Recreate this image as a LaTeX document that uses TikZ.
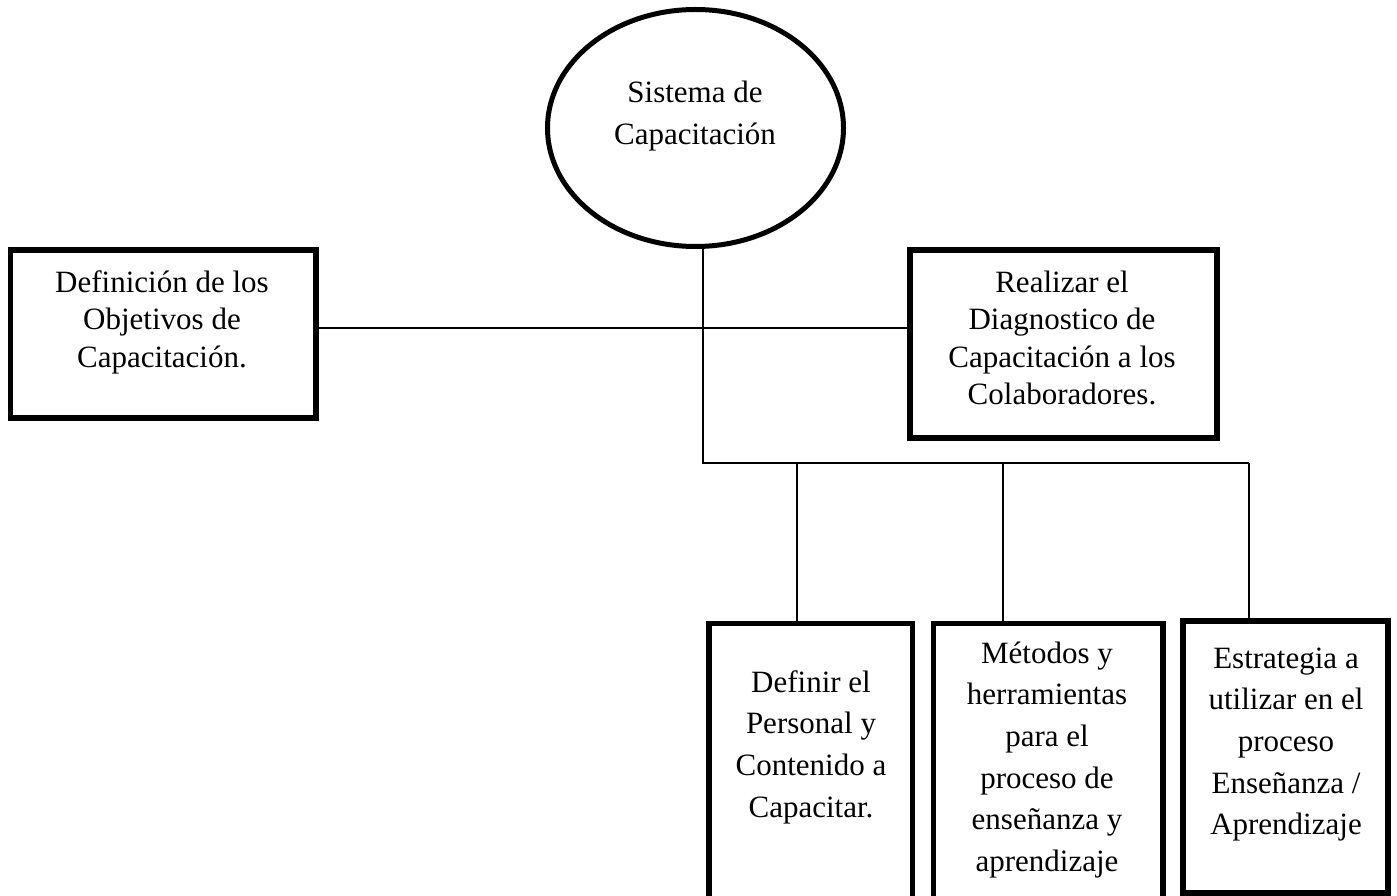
\documentclass[tikz,border=0pt]{standalone}
\usepackage{fontspec}
\setmainfont{Liberation Serif}
\usetikzlibrary{shapes.geometric}

% stacked, centred lines whose top baseline is the node's base
\newcommand{\stackln}[1]{\begin{tabular}[t]{@{}c@{}}#1\end{tabular}}

\tikzset{
  frame/.style={draw=black, line width=5.5pt, fill=white, inner sep=0pt},
  link/.style={draw=black, line width=1.8pt},
  lbl/.style={anchor=base, inner sep=0pt, font=\fontsize{31}{37.5}\selectfont},
  lblwide/.style={anchor=base, inner sep=0pt, font=\fontsize{31}{41.7}\selectfont},
}

\begin{document}
\begin{tikzpicture}[x=1pt, y=-1pt]
  \useasboundingbox (0,0) rectangle (1397,896);
  \clip (0,0) rectangle (1397,896);
  \fill[white] (0,0) rectangle (1397,896);

  % junction points of the connector tree
  \coordinate (hub) at (703,463);
  \coordinate (mid) at (703,328);
  \coordinate (dropa) at (797,463);
  \coordinate (dropb) at (1003,463);
  \coordinate (dropc) at (1249,463);

  % connectors (drawn first, shapes cover their ends)
  \coordinate (top) at (703,240);
  \draw[link] (top) -- (hub) -- (dropc);
  \draw[link] (163,328) -- (1063,328);

  % root ellipse
  \node[frame, ellipse, line width=5pt, minimum width=296pt, minimum height=237pt] (sys) at (695.5,128) {};
  \node[lblwide] (tsys) at (695,103) {\stackln{Sistema de\\Capacitación}};

  % upper boxes
  \node[frame, minimum width=305.7pt, minimum height=168.3pt] (lbox) at (163.2,333.9) {};
  \node[lbl] (tlbox) at (162,292) {\stackln{Definición de los\\Objetivos de\\Capacitación.}};

  \node[frame, minimum width=307pt, minimum height=188.3pt] (rbox) at (1063.5,343.9) {};
  \node[lbl] (trbox) at (1062,292) {\stackln{Realizar el\\Diagnostico de\\Capacitación a los\\Colaboradores.}};

  % lower boxes
  \node[frame, minimum width=203.5pt, minimum height=306.5pt] (boxa) at (810.75,776.75) {};
  \node[lblwide] (tboxa) at (811,692) {\stackln{Definir el\\Personal y\\Contenido a\\Capacitar.}};

  \node[frame, minimum width=229.5pt, minimum height=306.5pt] (boxb) at (1048.25,776.75) {};
  \node[lblwide] (tboxb) at (1047,663) {\stackln{Métodos y\\herramientas\\para el\\proceso de\\enseñanza y\\aprendizaje}};

  \node[frame, minimum width=205pt, minimum height=272pt] (boxc) at (1285.5,757) {};
  \node[lblwide] (tboxc) at (1286,668) {\stackln{Estrategia a\\utilizar en el\\proceso\\Enseñanza /\\Aprendizaje}};

  % drops from the bus to the lower boxes
  \draw[link] (dropa) -- (dropa |- boxa.north);
  \draw[link] (dropb) -- (dropb |- boxb.north);
  \draw[link] (dropc) -- (dropc |- boxc.north);
\end{tikzpicture}
\end{document}
